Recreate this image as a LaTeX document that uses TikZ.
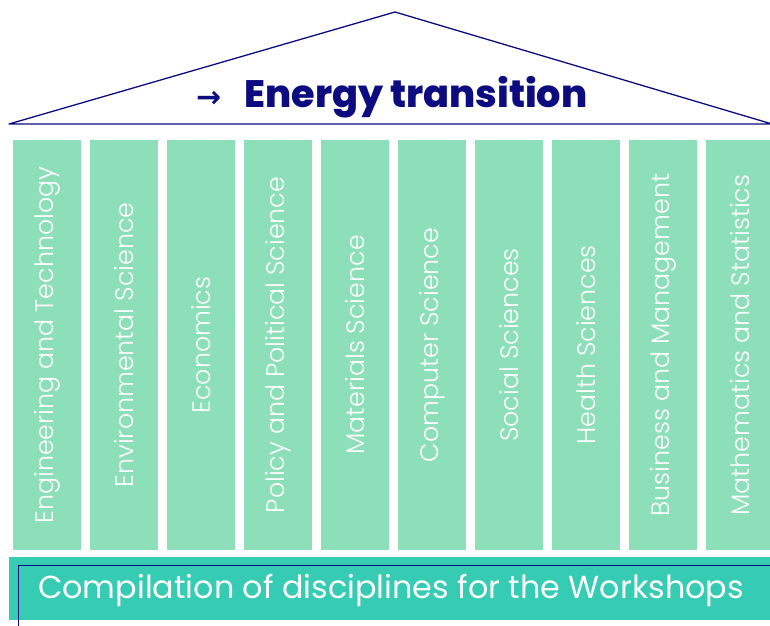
\documentclass[tikz,border=0pt]{standalone}
\usepackage{fontspec}
\setmainfont{Poppins}[BoldFont=* ExtraBold]
\newfontfamily\thinfont{Poppins}[UprightFont=* Light]
\newfontfamily\arrowfont{DejaVu Sans}
\definecolor{navy}{RGB}{12,12,128}
\definecolor{mint}{RGB}{141,223,185}
\definecolor{bandteal}{RGB}{54,204,179}

\begin{document}
\begin{tikzpicture}
[x=1pt,y=-1pt,every node/.style={inner sep=0pt},
 pillar/.style={rectangle,fill=mint,rotate=90,minimum width=410pt,minimum height=68pt,
   text=white,font=\thinfont\fontsize{25.3}{25.3}\selectfont}]
\useasboundingbox (0,0) rectangle (770,625);
\clip (0,0) rectangle (770,625);

% roof
\coordinate (eaveL) at (9,124);
\coordinate (ridge) at (395,12);
\coordinate (eaveR) at (772,124);
\draw[navy,line width=1.3pt,line join=round] (eaveL) -- (ridge) -- (eaveR) -- cycle;
\node[anchor=base west,text=navy] (title) at (196,107)
  {{\arrowfont\bfseries\fontsize{30}{30}\selectfont →}\hspace{23pt}{\fontsize{38.2}{38.2}\selectfont\bfseries Energy transition}};

% pillars
\foreach \name [count=\i from 0] in {Engineering and Technology,Environmental Science,Economics,
  Policy and Political Science,Materials Science,Computer Science,Social Sciences,
  Health Sciences,Business and Management,Mathematics and Statistics}
\node[pillar] (col\i) at ({47+77*\i},345) {\name};

% base
\node[fill=bandteal,anchor=north west,minimum width=775pt,minimum height=63pt] (base) at (9,557) {};
\node[draw=navy,line width=1.2pt,anchor=north west,minimum width=775pt,minimum height=80pt] (frame) at (18,565) {};
\node[text=white,font=\fontsize{31.8}{31.8}\selectfont] (basetext) at (391,590)
  {Compilation of disciplines for the Workshops};

\end{tikzpicture}
\end{document}
